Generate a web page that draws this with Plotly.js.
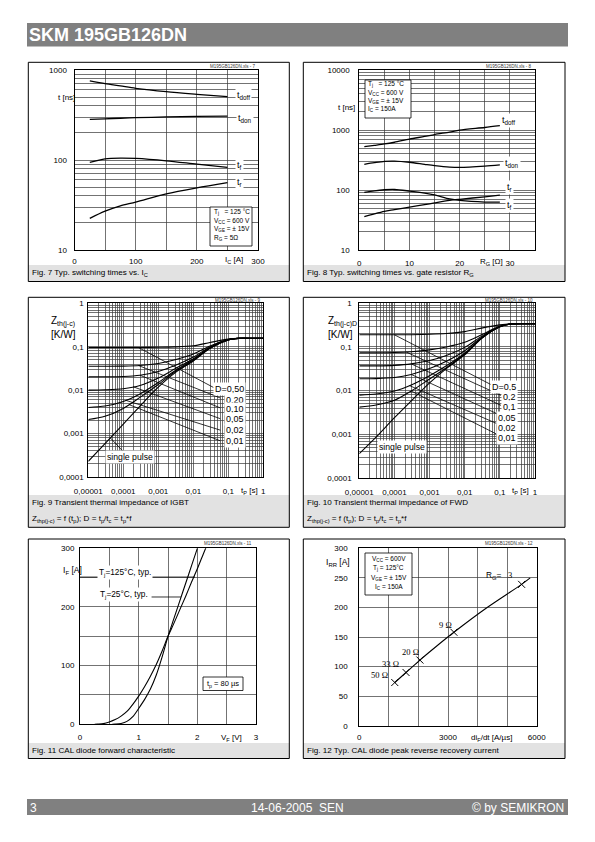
<!DOCTYPE html>
<html>
<head>
<meta charset="utf-8">
<script src="https://cdn.plot.ly/plotly-3.0.1.min.js"></script>
<style>
html,body{margin:0;padding:0;background:#fff;}
#chart{width:595px;height:842px;}
</style>
</head>
<body>
<div id="chart"></div>
<script>
// ================= DATA =================
// Fig. 7  switching times vs. I_C
const fig7Ic    = [25, 50, 75, 100, 150, 200, 250];
const fig7Tdoff = [755, 705, 665, 626, 574, 537, 506];
const fig7Tdon  = [283, 287, 291, 295, 301, 305, 308];
const fig7Tf    = [94, 103, 105, 104, 98, 90, 83];
const fig7Tr    = [22.5, 27, 31, 34, 42, 49, 56];
const fig7XTicks = [0, 100, 200, 300];
const fig7XText  = ['0', '100', '200', '300'];
const fig7XMinor = [50, 150, 250];
const fig7YDecLabels = ['10', '100', '1000'];

// Fig. 8  switching times vs. R_G
const fig8Rg    = [1, 3, 5, 7, 10, 13, 15, 18, 20, 25, 28];
const fig8Tdoff = [527, 555, 585, 625, 705, 780, 840, 925, 995, 1100, 1180];
const fig8Tdon  = [268, 285, 300, 303, 290, 268, 255, 241, 238, 250, 262];
const fig8Tf    = [91, 97, 101, 102, 96, 89, 83, 71, 67, 63, 63];
const fig8Tr    = [36, 40, 44, 47, 52, 57, 61, 67, 70, 77, 82];
const fig8XTicks = [0, 10, 20, 30];
const fig8XText  = ['0', '10', '20', '30'];
const fig8XMinor = [5, 15, 25, 35];
const fig8YDecLabels = ['10', '100', '1000', '10000'];

// Fig. 9 / 10  transient thermal impedance
const zthTp = [1e-5, 3e-5, 1e-4, 3e-4, 1e-3, 3e-3, 1e-2, 3e-2, 0.1, 0.2, 0.5, 1];
const igbtD50    = [0.096, 0.096, 0.096, 0.096, 0.097, 0.099, 0.105, 0.125, 0.150, 0.157, 0.157, 0.157];
const igbtD20    = [0.0356, 0.0356, 0.0358, 0.037, 0.041, 0.050, 0.068, 0.104, 0.147, 0.157, 0.157, 0.157];
const igbtD10    = [0.0203, 0.0203, 0.0206, 0.022, 0.027, 0.037, 0.058, 0.098, 0.146, 0.156, 0.157, 0.157];
const igbtD05    = [0.0100, 0.0102, 0.0108, 0.0128, 0.019, 0.031, 0.053, 0.095, 0.145, 0.156, 0.157, 0.157];
const igbtD02    = [0.0040, 0.0043, 0.0055, 0.0082, 0.015, 0.028, 0.050, 0.093, 0.144, 0.156, 0.157, 0.157];
const igbtD01    = [0.0021, 0.0025, 0.0038, 0.0068, 0.0135, 0.0265, 0.048, 0.092, 0.144, 0.156, 0.157, 0.157];
const igbtSingle = [0.00023, 0.00059, 0.00165, 0.0043, 0.0117, 0.025, 0.047, 0.092, 0.144, 0.156, 0.157, 0.157];

const fwdD50    = [0.19, 0.19, 0.19, 0.191, 0.195, 0.203, 0.225, 0.27, 0.32, 0.34, 0.342, 0.342];
const fwdD20    = [0.074, 0.074, 0.075, 0.078, 0.086, 0.100, 0.128, 0.19, 0.30, 0.337, 0.342, 0.342];
const fwdD10    = [0.037, 0.037, 0.038, 0.041, 0.049, 0.064, 0.098, 0.175, 0.296, 0.336, 0.342, 0.342];
const fwdD05    = [0.0187, 0.0189, 0.020, 0.0235, 0.032, 0.047, 0.082, 0.166, 0.293, 0.336, 0.342, 0.342];
const fwdD02    = [0.0079, 0.0084, 0.0098, 0.0135, 0.022, 0.037, 0.072, 0.160, 0.291, 0.335, 0.342, 0.342];
const fwdD01    = [0.0042, 0.0047, 0.0060, 0.0098, 0.0185, 0.0335, 0.069, 0.157, 0.290, 0.335, 0.342, 0.342];
const fwdSingle = [0.00036, 0.00086, 0.0024, 0.0058, 0.0151, 0.032, 0.066, 0.155, 0.290, 0.335, 0.342, 0.342];

const igbtDLabels = ['D=0,50', '0,20', '0,10', '0,05', '0,02', '0,01'];
const fwdDLabels  = ['D=0,5', '0,2', '0,1', '0,05', '0,02', '0,01'];
// label leader lines (start on curve -> end at label)
const igbtLeadX0 = [2.7e-4, 2.7e-4, 3.0e-4, 1.9e-4, 1.2e-4, 1.5e-4];
const igbtLeadY0 = [0.096, 0.037, 0.022, 0.012, 0.0058, 0.0046];
const igbtLeadX1 = [0.038, 0.059, 0.059, 0.059, 0.059, 0.059];
const igbtLeadY1 = [0.0115, 0.0066, 0.0039, 0.0022, 0.0012, 0.00068];
const igbtPulseLeadX = [4.3e-5, 1.09e-4];
const igbtPulseLeadY = [0.00079, 0.000356];
const fwdLeadX0 = [1.0e-4, 2.2e-4, 3.0e-4, 3.0e-4, 2.7e-4, 3.0e-4];
const fwdLeadY0 = [0.19, 0.076, 0.041, 0.0235, 0.013, 0.0098];
const fwdLeadX1 = [0.063, 0.108, 0.108, 0.097, 0.097, 0.097];
const fwdLeadY1 = [0.0131, 0.0078, 0.0046, 0.0028, 0.00166, 0.00094];
const zthXDecLabels = ['0,00001', '0,0001', '0,001', '0,01', '0,1', '1'];
const zthYDecLabels = ['0,0001', '0,001', '0,01', '0,1', '1'];

// Fig. 11  CAL diode forward characteristic
const fig11Vf25  = [0.55, 0.6, 0.7, 0.8, 0.9, 1.0, 1.1, 1.2, 1.3, 1.4, 1.5, 1.6, 1.7, 1.8, 1.9, 2.0];
const fig11If25  = [0, 0.3, 1.5, 5, 13, 27, 42, 60, 84, 115, 150, 180, 210, 240, 270, 300];
const fig11Vf125 = [0.25, 0.3, 0.4, 0.5, 0.6, 0.7, 0.8, 0.9, 1.0, 1.1, 1.2, 1.3, 1.4, 1.5, 1.6, 1.7, 1.8, 1.9, 2.0, 2.1, 2.15];
const fig11If125 = [0, 0.3, 1.2, 4, 8, 14, 22, 34, 48, 64, 82, 102, 125, 150, 172, 195, 218, 242, 265, 290, 302];
const fig11Lead125V = [0, 1.96];
const fig11Lead125I = [251, 251];
const fig11Lead25V  = [1.22, 1.72];
const fig11Lead25I  = [217, 217];
const fig11XTicks = [0, 1, 2, 3];
const fig11XText  = ['0', '1', '2', '3'];
const fig11XMinor = [0.5, 1.5, 2.5];
const fig11YTicks = [0, 100, 200, 300];
const fig11YText  = ['0', '100', '200', '300'];
const fig11YMinor = [50, 150, 250];

// Fig. 12  CAL diode peak reverse recovery current
const fig12DiDt  = [1200, 1580, 2050, 3200, 5490];
const fig12Irr   = [73, 90, 111, 158, 239];
const fig12LineX = [1200, 1580, 2050, 2600, 3200, 4300, 5490, 5780];
const fig12LineY = [73, 90, 111, 134, 158, 199, 239, 250];
const fig12RgLabels = ['50 \u03a9', '33 \u03a9', '20 \u03a9', '9 \u03a9', '3'];
const fig12XTicks = [0, 3000, 6000];
const fig12XText  = ['0', '3000', '6000'];
const fig12XMinor = [1000, 2000, 4000, 5000];
const fig12YTicks = [0, 50, 100, 150, 200, 250, 300];
const fig12YText  = ['0', '50', '100', '150', '200', '250', '300'];

// ================= BUILD =================
const F = 'Liberation Sans, Arial, sans-serif';
const FS = 'Liberation Serif, Times New Roman, serif';
const W = 595, H = 842;
const px = x => x / W;
const py = y => 1 - y / H;
const GRID = '#383838';

function logTicks(lo, hi, labels) {
  const vals = [], text = [], minor = [];
  for (let e = lo; e <= hi; e++) {
    vals.push(Math.pow(10, e));
    text.push(labels[e - lo]);
    if (e < hi) for (let k = 2; k <= 9; k++) minor.push(Number((k * Math.pow(10, e)).toPrecision(4)));
  }
  return {tickvals: vals, ticktext: text, minor: minor};
}

function axis(o, minorVals) {
  const a = Object.assign({
    showline: true, linecolor: '#000', linewidth: 1, mirror: true,
    showgrid: true, gridcolor: GRID, gridwidth: 0.7,
    zeroline: false, ticks: '', tickmode: 'array',
    tickfont: {family: F, size: 8, color: '#000'},
    fixedrange: true, automargin: false
  }, o);
  if (minorVals && minorVals.length) {
    a.minor = {tickmode: 'array', tickvals: minorVals, showgrid: true,
      gridcolor: GRID, gridwidth: 0.7, ticks: ''};
  }
  return a;
}

const traces = [];
function curve(x, y, xa, ya, w, shape) {
  traces.push({
    type: 'scatter', mode: 'lines', x: x, y: y, xaxis: xa, yaxis: ya,
    line: {color: '#000', width: w || 1.3, shape: shape || 'spline', smoothing: 0.8},
    hoverinfo: 'skip', showlegend: false
  });
}

// Fig 7
[fig7Tdoff, fig7Tdon, fig7Tf, fig7Tr].forEach(s => curve(fig7Ic, s, 'x', 'y'));
// Fig 8
[fig8Tdoff, fig8Tdon, fig8Tf, fig8Tr].forEach(s => curve(fig8Rg, s, 'x2', 'y2'));
// Fig 9
[igbtD50, igbtD20, igbtD10, igbtD05, igbtD02, igbtD01, igbtSingle].forEach(s => curve(zthTp, s, 'x3', 'y3', 1.1));
igbtLeadX0.forEach((v, i) => curve([igbtLeadX0[i], igbtLeadX1[i]], [igbtLeadY0[i], igbtLeadY1[i]], 'x3', 'y3', 0.8, 'linear'));
curve(igbtPulseLeadX, igbtPulseLeadY, 'x3', 'y3', 0.8, 'linear');
// Fig 10
[fwdD50, fwdD20, fwdD10, fwdD05, fwdD02, fwdD01, fwdSingle].forEach(s => curve(zthTp, s, 'x4', 'y4', 1.1));
fwdLeadX0.forEach((v, i) => curve([fwdLeadX0[i], fwdLeadX1[i]], [fwdLeadY0[i], fwdLeadY1[i]], 'x4', 'y4', 0.8, 'linear'));
// Fig 11
curve(fig11Vf25, fig11If25, 'x5', 'y5', 1.1);
curve(fig11Vf125, fig11If125, 'x5', 'y5', 1.1);
curve(fig11Lead125V, fig11Lead125I, 'x5', 'y5', 0.8, 'linear');
curve(fig11Lead25V, fig11Lead25I, 'x5', 'y5', 0.8, 'linear');
// Fig 12
curve(fig12LineX, fig12LineY, 'x6', 'y6', 1.1);
traces.push({
  type: 'scatter', mode: 'markers', x: fig12DiDt, y: fig12Irr, xaxis: 'x6', yaxis: 'y6',
  marker: {symbol: 'x-thin', size: 7, color: '#000', line: {color: '#000', width: 1}},
  hoverinfo: 'skip', showlegend: false
});

// ---------- annotations ----------
const ann = [];
function T(text, x, y, o) {
  o = o || {};
  ann.push({
    xref: 'paper', yref: 'paper', x: px(x), y: py(y), text: text,
    showarrow: false, xanchor: o.xa || 'left', yanchor: 'middle', align: o.xa || 'left',
    font: {family: o.fam || F, size: o.size || 8, color: o.color || '#000'},
    bgcolor: o.bg || 'rgba(0,0,0,0)', borderpad: o.pad === undefined ? 0 : o.pad
  });
}
const WM = {xa: 'right', size: 4.5, color: '#333'};
const LBL = {bg: '#fff', size: 9, pad: 1};
const NB = '\u00a0';
const CAP = {size: 8.1};

// header / footer
T('<b>SKM 195GB126DN</b>', 28, 35, {size: 18, color: '#fff'});
T('3', 29, 807.5, {size: 12, color: '#fff'});
T('14-06-2005' + NB + NB + 'SEN', 297, 807.5, {size: 12, color: '#fff', xa: 'center'});
T('\u00a9 by SEMIKRON', 565, 807.5, {size: 12, color: '#fff', xa: 'right'});

// Fig 7
T('M195GB126DN.xls - 7', 257, 66, WM);
T('t [ns]', 57, 98);
T('I<sub>C</sub> [A]', 234, 260, {xa: 'center'});
T('t<sub>doff</sub>', 235, 95, LBL);
T('t<sub>don</sub>', 236, 118, LBL);
T('t<sub>f</sub>', 235, 165, LBL);
T('t<sub>r</sub>', 235, 182, LBL);
T('T<sub>j</sub>' + NB + NB + NB + '= 125 \u00b0C', 213, 212, {size: 6.5});
T('V<sub>CC</sub> = 600 V', 213, 221, {size: 6.5});
T('V<sub>GE</sub> = \u00b1 15V', 213, 229.5, {size: 6.5});
T('R<sub>G</sub> = 5\u03a9', 213, 238, {size: 6.5});
T('Fig. 7 Typ. switching times vs. I<sub>C</sub>', 31, 272.5, CAP);

// Fig 8
T('M195GB126DN.xls - 8', 533, 66, WM);
T('t [ns]', 356, 108, {xa: 'right'});
T('R<sub>G</sub> [\u03a9]', 491, 262, {xa: 'center'});
T('t<sub>doff</sub>', 500, 120, LBL);
T('t<sub>don</sub>', 503, 164, LBL);
T('t<sub>r</sub>', 505, 188, LBL);
T('t<sub>f</sub>', 505, 205, LBL);
T('T<sub>j</sub>' + NB + NB + NB + '= 125 \u00b0C', 367, 84, {size: 6.5});
T('V<sub>CC</sub> = 600 V', 367, 93, {size: 6.5});
T('V<sub>GE</sub> = \u00b1 15V', 367, 101, {size: 6.5});
T('I<sub>C</sub> = 150A', 367, 109.5, {size: 6.5});
T('Fig. 8 Typ. switching times vs. gate resistor R<sub>G</sub>', 306, 272.5, CAP);

// Fig 9
T('M195GB126DN.xls - 9', 262, 300, WM);
T('Z<sub>th(j-c)</sub>', 50, 322, {size: 10});
T('[K/W]', 50, 334, {size: 10});
T('t<sub>P</sub> [s]', 249, 491, {xa: 'center'});
const igbtLabY = [389, 400, 409, 419, 430, 441];
igbtDLabels.forEach((t, i) => T(t, 246, igbtLabY[i], {xa: 'right', bg: '#fff', size: 9, pad: 1}));
T('single pulse', 130, 457, {xa: 'center', bg: '#fff', size: 8.7, pad: 1});
T('Fig. 9 Transient thermal impedance of IGBT', 31, 502.5, CAP);
T('Z<sub>thp(j-c)</sub> = f (t<sub>p</sub>); D = t<sub>p</sub>/t<sub>c</sub> = t<sub>p</sub>*f', 31, 518.5, CAP);

// Fig 10
T('M195GB126DN.xls - 10', 534, 300, WM);
T('Z<sub>th(j-c)D</sub>', 327, 322, {size: 10});
T('[K/W]', 327, 334, {size: 10});
T('t<sub>P</sub> [s]', 520, 491, {xa: 'center'});
const fwdLabY = [387, 397, 407, 418, 428, 438];
fwdDLabels.forEach((t, i) => T(t, 518, fwdLabY[i], {xa: 'right', bg: '#fff', size: 9, pad: 1}));
T('single pulse', 402, 447, {xa: 'center', bg: '#fff', size: 8.7, pad: 1});
T('Fig. 10 Transient thermal impedance of FWD', 306, 502.5, CAP);
T('Z<sub>thp(j-c)</sub> = f (t<sub>p</sub>); D = t<sub>p</sub>/t<sub>c</sub> = t<sub>p</sub>*f', 306, 518.5, CAP);

// Fig 11
T('M195GB126DN.xls - 11', 253, 543, WM);
T('I<sub>F</sub> [A]', 62, 570, {size: 8.5});
T('T<sub>j</sub>=125\u00b0C, typ.', 97, 572, {bg: '#fff', size: 8.3, pad: 1});
T('T<sub>j</sub>=25\u00b0C, typ.', 98, 594, {bg: '#fff', size: 8.3, pad: 1});
T('V<sub>F</sub> [V]', 231, 737.5, {xa: 'center'});
T('t<sub>p</sub> = 80 \u00b5s', 223, 684, {xa: 'center', size: 7.5});
T('Fig. 11 CAL diode forward characteristic', 31, 750, CAP);

// Fig 12
T('M195GB126DN.xls - 12', 534, 543, WM);
T('I<sub>RR</sub> [A]', 325, 562, {size: 8.5});
T('di<sub>F</sub>/dt [A/\u00b5s]', 492, 737.5, {xa: 'center'});
T('V<sub>CC</sub> = 600V', 388.5, 559, {xa: 'center', size: 6.5});
T('T<sub>j</sub> = 125\u00b0C', 388.5, 568, {xa: 'center', size: 6.5});
T('V<sub>GE</sub> = \u00b1 15V', 388.5, 577.5, {xa: 'center', size: 6.5});
T('I<sub>C</sub> = 150A', 388.5, 587, {xa: 'center', size: 6.5});
T('R<sub>G</sub>=', 485, 575, {size: 8.3});
const rgLabPos = [[380, 675], [390, 664], [410, 652], [445, 625], [510, 575]];
fig12RgLabels.forEach((t, i) => T(t, rgLabPos[i][0], rgLabPos[i][1], {xa: 'center', fam: FS, size: 8.5}));
T('Fig. 12 Typ. CAL diode peak reverse recovery current', 306, 750, CAP);

// ---------- shapes ----------
const shp = [];
function R(x0, y0, x1, y1, fill, lc, lw, layer) {
  shp.push({
    type: 'rect', xref: 'paper', yref: 'paper',
    x0: px(x0), x1: px(x1), y0: py(y1), y1: py(y0),
    fillcolor: fill || 'rgba(0,0,0,0)',
    line: {color: lc || 'rgba(0,0,0,0)', width: lw || 0},
    layer: layer || 'above'
  });
}
R(27, 23, 568, 46.5, '#808080', null, 0, 'below');
R(27, 799, 568, 815, '#808080', null, 0, 'below');
const panels = [
  [28.3, 62.3, 289.3, 281.5, 265],
  [303.3, 62.3, 565, 281.5, 265],
  [28.3, 297.3, 289.3, 527.3, 495],
  [303.3, 297.3, 565, 527.3, 495],
  [28.3, 539, 289.3, 758.5, 743],
  [303.3, 539, 565, 758.5, 743]
];
panels.forEach(p => {
  R(p[0], p[4], p[2], p[3], '#e2e2e2', null, 0, 'below');
  R(p[0], p[1], p[2], p[3], null, '#000', 1, 'above');
});
R(210, 207, 252, 246, '#fff', '#000', 0.8);
R(365, 80, 411, 118, '#fff', '#000', 0.8);
R(203, 677, 243, 690.5, '#fff', '#000', 0.8);
R(365, 553, 412, 595, '#fff', '#000', 0.8);

// ---------- axes ----------
const t7y = logTicks(1, 3, fig7YDecLabels);
const t8y = logTicks(1, 4, fig8YDecLabels);
const tzx = logTicks(-5, 0, zthXDecLabels);
const tzy = logTicks(-4, 0, zthYDecLabels);

const layout = {
  width: W, height: H, autosize: false,
  margin: {l: 0, r: 0, t: 0, b: 0, pad: 0},
  paper_bgcolor: '#fff', plot_bgcolor: '#fff',
  showlegend: false, font: {family: F, color: '#000'},
  xaxis: axis({domain: [px(74.5), px(258)], range: [0, 300], anchor: 'y',
    tickvals: fig7XTicks, ticktext: fig7XText, ticklabelstandoff: 3}, fig7XMinor),
  yaxis: axis({domain: [py(250), py(70)], type: 'log', range: [1, 3], anchor: 'x',
    tickvals: t7y.tickvals, ticktext: t7y.ticktext, ticklabelstandoff: 5}, t7y.minor),
  xaxis2: axis({domain: [px(359.3), px(535)], range: [0, 35], anchor: 'y2',
    tickvals: fig8XTicks, ticktext: fig8XText, ticklabelstandoff: 5}, fig8XMinor),
  yaxis2: axis({domain: [py(250), py(70)], type: 'log', range: [1, 4], anchor: 'x2',
    tickvals: t8y.tickvals, ticktext: t8y.ticktext, ticklabelstandoff: 7}, t8y.minor),
  xaxis3: axis({domain: [px(88.3), px(263.3)], type: 'log', range: [-5, 0], anchor: 'y3',
    tickvals: tzx.tickvals, ticktext: tzx.ticktext, ticklabelstandoff: 6}, tzx.minor),
  yaxis3: axis({domain: [py(477), py(303.3)], type: 'log', range: [-4, 0], anchor: 'x3',
    tickvals: tzy.tickvals, ticktext: tzy.ticktext, ticklabelstandoff: 2}, tzy.minor),
  xaxis4: axis({domain: [px(359.3), px(535)], type: 'log', range: [-5, 0], anchor: 'y4',
    tickvals: tzx.tickvals, ticktext: tzx.ticktext, ticklabelstandoff: 6}, tzx.minor),
  yaxis4: axis({domain: [py(478), py(303.3)], type: 'log', range: [-4, 0], anchor: 'x4',
    tickvals: tzy.tickvals, ticktext: tzy.ticktext, ticklabelstandoff: 5}, tzy.minor),
  xaxis5: axis({domain: [px(80), px(256)], range: [0, 3], anchor: 'y5',
    tickvals: fig11XTicks, ticktext: fig11XText, ticklabelstandoff: 5}, fig11XMinor),
  yaxis5: axis({domain: [py(724.3), py(548.3)], range: [0, 300], anchor: 'x5',
    tickvals: fig11YTicks, ticktext: fig11YText, ticklabelstandoff: 3}, fig11YMinor),
  xaxis6: axis({domain: [px(359.3), px(536.7)], range: [0, 6000], anchor: 'y6',
    tickvals: fig12XTicks, ticktext: fig12XText, ticklabelstandoff: 4}, fig12XMinor),
  yaxis6: axis({domain: [py(725.7), py(548.3)], range: [0, 300], anchor: 'x6',
    tickvals: fig12YTicks, ticktext: fig12YText, ticklabelstandoff: 9}),
  annotations: ann,
  shapes: shp
};

Plotly.newPlot('chart', traces, layout, {displayModeBar: false, staticPlot: true});
</script>
</body>
</html>
